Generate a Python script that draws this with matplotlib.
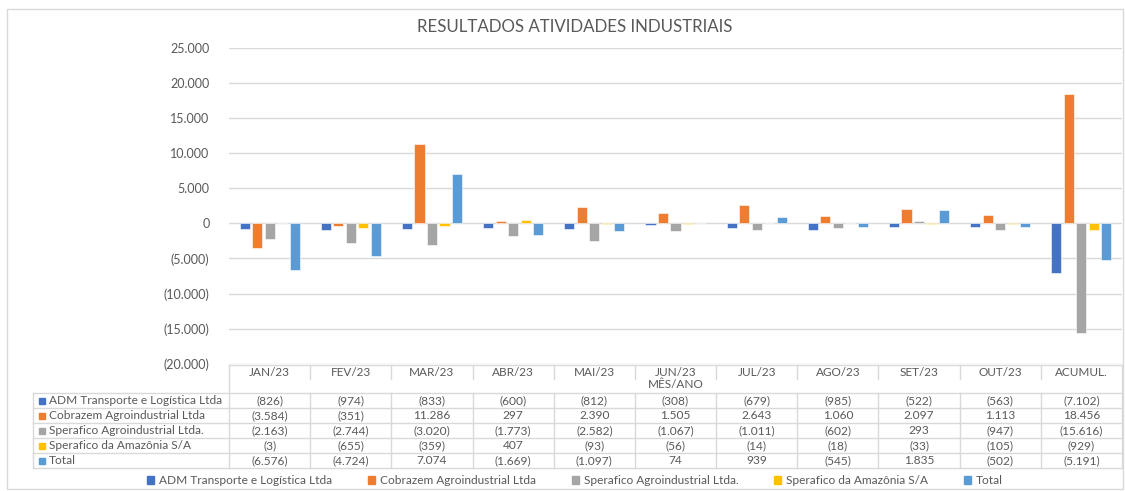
import matplotlib
matplotlib.use("Agg")
import matplotlib.pyplot as plt
from matplotlib.patches import Rectangle, Patch
from matplotlib.ticker import FuncFormatter
import numpy as np

plt.rcParams['font.family'] = ['Lato', 'DejaVu Sans']

title = "RESULTADOS ATIVIDADES INDUSTRIAIS"
categories = ["JAN/23", "FEV/23", "MAR/23", "ABR/23", "MAI/23", "JUN/23",
              "JUL/23", "AGO/23", "SET/23", "OUT/23", "ACUMUL."]
series_names = ["ADM Transporte e Logística Ltda", "Cobrazem Agroindustrial Ltda",
                "Sperafico Agroindustrial Ltda.", "Sperafico da Amazônia S/A", "Total"]
adm = [-826, -974, -833, -600, -812, -308, -679, -985, -522, -563, -7102]
cobrazem = [-3584, -351, 11286, 297, 2390, 1505, 2643, 1060, 2097, 1113, 18456]
sperafico_agro = [-2163, -2744, -3020, -1773, -2582, -1067, -1011, -602, 293, -947, -15616]
sperafico_amaz = [-3, -655, -359, 407, -93, -56, -14, -18, -33, -105, -929]
total = [-6576, -4724, 7074, -1669, -1097, 74, 939, -545, 1835, -502, -5191]
series = [adm, cobrazem, sperafico_agro, sperafico_amaz, total]
colors = ["#4472C4", "#ED7D31", "#A5A5A5", "#FFC000", "#5B9BD5"]
xlabel = "MÊS/ANO"

W, H = 1125, 491
fig = plt.figure(figsize=(W / 100, H / 100), dpi=100)
fig.patch.set_facecolor("white")

txt_col = "#595959"
grid_col = "#D9D9D9"

# main axes
ax_l, ax_r, ax_t, ax_b = 229, 1122, 47.7, 363.8
ax = fig.add_axes([ax_l / W, 1 - ax_b / H, (ax_r - ax_l) / W, (ax_b - ax_t) / H])
n = len(categories)
x = np.arange(n)
step = 0.154
bw = 0.125
for i, (vals, c) in enumerate(zip(series, colors)):
    ax.bar(x + (i - 2) * step, vals, width=bw, color=c, edgecolor="white",
           linewidth=0.4, zorder=3)
ax.set_xlim(-0.5, n - 0.5)
ax.set_ylim(-20000, 25000)
ax.set_yticks(np.arange(-20000, 25001, 5000))
def fmt(v, pos=None):
    v = int(round(v))
    s = f"{abs(v):,}".replace(",", ".")
    return f"({s})" if v < 0 else s
ax.yaxis.set_major_formatter(FuncFormatter(fmt))
ax.tick_params(axis='y', length=0, pad=14, labelsize=9, labelcolor=txt_col)
ax.set_xticks([])
ax.grid(axis='y', color=grid_col, linewidth=1, zorder=0)
for s in ax.spines.values():
    s.set_visible(False)

# overlay in pixel coordinates for table, title and frame
ov = fig.add_axes([0, 0, 1, 1], zorder=-1)
ov.set_xlim(0, W)
ov.set_ylim(H, 0)
ov.axis("off")
ov2 = fig.add_axes([0, 0, 1, 1], zorder=5)
ov2.set_xlim(0, W)
ov2.set_ylim(H, 0)
ov2.axis("off")
ov2.patch.set_alpha(0)

ov.add_patch(Rectangle((7, 9), 1116, 480, fill=False, edgecolor="#D9D9D9", linewidth=1))
ov2.text(575, 27, title, ha="center", va="center", fontsize=12.2, color=txt_col)

# table
tl, tr = 33, 1122
cw = (tr - ax_l) / n
h_top, h_bot = 365, 393
rows_y = [393, 408, 423, 438, 453, 468]
lc = "#D9D9D9"
lw = 1
ov2.plot([ax_l, tr], [h_top, h_top], color=lc, lw=lw)
ov2.plot([ax_l, ax_l], [h_top, rows_y[-1]], color=lc, lw=lw)
ov2.plot([tr, tr], [h_top, rows_y[-1]], color=lc, lw=lw)
for yy in rows_y:
    ov2.plot([tl, tr], [yy, yy], color=lc, lw=lw)
ov2.plot([tl, tl], [rows_y[0], rows_y[-1]], color=lc, lw=lw)
for j in range(1, n):
    xx = ax_l + j * cw
    ov2.plot([xx, xx], [h_top, 379], color=lc, lw=lw)
    ov2.plot([xx, xx], [rows_y[0], rows_y[-1]], color=lc, lw=lw)
for j, cat in enumerate(categories):
    ov2.text(ax_l + (j + 0.5) * cw, 372, cat, ha="center", va="center",
             fontsize=8.5, color=txt_col)
ov2.text((ax_l + tr) / 2, 385, xlabel, ha="center", va="center", fontsize=8.5, color=txt_col)
for r, (name, vals, c) in enumerate(zip(series_names, series, colors)):
    yc = (rows_y[r] + rows_y[r + 1]) / 2
    ov2.add_patch(Rectangle((39, yc - 3), 6, 6, color=c))
    ov2.text(49, yc, name, ha="left", va="center", fontsize=8.6, color=txt_col)
    for j, v in enumerate(vals):
        ov2.text(ax_l + (j + 0.5) * cw, yc, fmt(v), ha="center", va="center",
                 fontsize=8.6, color=txt_col)

handles = [Patch(color=c, label=nm) for c, nm in zip(colors, series_names)]
leg = fig.legend(handles=handles, loc="center", bbox_to_anchor=(575 / W, 1 - 481 / H),
                 ncol=5, frameon=False, fontsize=8.6, handlelength=0.6, handleheight=0.6,
                 handletextpad=0.4, columnspacing=3.0, labelcolor=txt_col)

fig.savefig("out.png", dpi=100)
